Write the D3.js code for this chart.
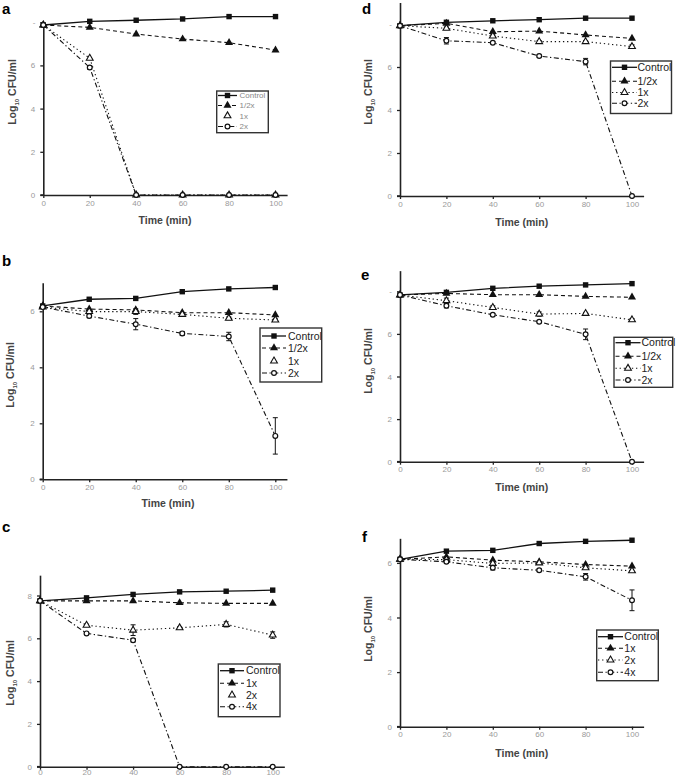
<!DOCTYPE html>
<html><head><meta charset="utf-8">
<script src="https://cdn.jsdelivr.net/npm/d3@7"></script>
<style>body{margin:0;background:#fff}svg{display:block;font-family:Arial,"Liberation Sans",sans-serif}</style>
</head><body>
<svg id="c" width="677" height="776"></svg>
<script>
// ---------- data ----------
const time = [0, 20, 40, 60, 80, 100];
const xTicks = [0, 20, 40, 60, 80, 100];

const legendA = ["Control", "1/2x", "1x", "2x"];
const aControl = [7.87, 8.04, 8.09, 8.15, 8.26, 8.26];
const aHalf    = [7.87, 7.76, 7.45, 7.22, 7.05, 6.71];
const a1x      = [7.87, 6.33, 0, 0, 0, 0];
const a2x      = [7.87, 5.90, 0, 0, 0, 0];
const a2xErr   = [0, 0.08, 0, 0, 0, 0];

const legendB = ["Control", "1/2x", "1x", "2x"];
const bControl = [6.19, 6.43, 6.46, 6.70, 6.80, 6.85];
const bHalf    = [6.19, 6.08, 6.05, 5.95, 5.95, 5.87];
const b1x      = [6.15, 5.99, 5.99, 5.89, 5.75, 5.69];
const b2x      = [6.15, 5.83, 5.54, 5.21, 5.10, 1.55];
const b2xErr   = [0, 0.06, 0.20, 0.07, 0.15, 0.65];
const b1xErr   = [0, 0.05, 0.10, 0.05, 0.05, 0.04];

const legendC = ["Control", "1x", "2x", "4x"];
const cControl = [7.75, 7.89, 8.05, 8.17, 8.20, 8.25];
const c1x      = [7.75, 7.75, 7.75, 7.66, 7.63, 7.63];
const c2x      = [7.75, 6.61, 6.38, 6.49, 6.65, 6.15];
const c4x      = [7.75, 6.23, 5.91, 0, 0, 0];
const c2xErr   = [0, 0.05, 0.25, 0.05, 0.12, 0.15];
const c4xErr   = [0, 0.03, 0.08, 0, 0, 0];

const legendD = ["Control", "1/2x", "1x", "2x"];
const dControl = [7.92, 8.08, 8.15, 8.20, 8.27, 8.27];
const dHalf    = [7.92, 8.03, 7.64, 7.67, 7.49, 7.33];
const d1x      = [7.92, 7.80, 7.44, 7.18, 7.18, 6.95];
const d2x      = [7.92, 7.22, 7.13, 6.51, 6.25, 0];
const d2xErr   = [0, 0.15, 0.04, 0.05, 0.15, 0];
const d1xErr   = [0, 0.06, 0.06, 0.05, 0.05, 0.08];

const legendE = ["Control", "1/2x", "1x", "2x"];
const eControl = [7.83, 7.95, 8.14, 8.24, 8.30, 8.36];
const eHalf    = [7.83, 7.90, 7.84, 7.84, 7.76, 7.72];
const e1x      = [7.83, 7.56, 7.24, 6.93, 6.96, 6.66];
const e2x      = [7.83, 7.32, 6.90, 6.57, 5.98, 0];
const e2xErr   = [0, 0.10, 0.05, 0.05, 0.25, 0];
const e1xErr   = [0, 0.12, 0.08, 0.10, 0.05, 0.06];

const legendF = ["Control", "1x", "2x", "4x"];
const fControl = [6.13, 6.43, 6.46, 6.71, 6.79, 6.83];
const f1x      = [6.13, 6.22, 6.10, 6.04, 5.94, 5.88];
const f2x      = [6.13, 6.12, 5.98, 6.00, 5.82, 5.71];
const f4x      = [6.13, 6.04, 5.82, 5.73, 5.49, 4.63];
const f4xErr   = [0, 0.05, 0.08, 0.05, 0.12, 0.38];

const yTicksA = [0, 2, 4, 6, 8];
const yTickLabelsA = ["0", "2", "4", "6", "-"];
const yTicksB = [0, 2, 4, 6];
const yTickLabelsB = ["0", "2", "4", "6"];
const yTicksC = [0, 2, 4, 6, 8];
const yTickLabelsC = ["0", "2", "4", "6", "8"];

// ---------- layout ----------
const panels = [
  {id:"a", lx:2, ly:13.5, x0:43.3, x100:275.5, y0:195, pu:21.6, ymax:7.9, xpad:2,
   yt:yTicksA, ytl:yTickLabelsA, names:legendA, series:[aControl,aHalf,a1x,a2x], errs:[null,null,null,a2xErr],
   legLine:[true,true,false,true], leg:{x:216.7,y:91,w:51.6,h:41.7,rows:[95.5,105.5,115.8,126.5],sx:218,sw:19,tx:239.5,fs:8,col:"#888"},
   ylab:{x:16,y:92}, xlab:{x:165,y:224}},
  {id:"b", lx:2, ly:265.5, x0:42.7, x100:275.3, y0:479.3, pu:28, ymax:7.02, xpad:2,
   yt:yTicksB, ytl:yTickLabelsB, names:legendB, series:[bControl,bHalf,b1x,b2x], errs:[null,null,b1xErr,b2xErr],
   legLine:[true,true,false,true], leg:{x:260,y:328,w:61.7,h:54,rows:[336,348,361,373],sx:262,sw:24,tx:288,fs:10.5,col:"#222"},
   ylab:{x:14,y:375}, xlab:{x:168,y:507}},
  {id:"c", lx:2, ly:532, x0:40, x100:272.7, y0:766.7, pu:21.4, ymax:8.95, xpad:-0.5,
   yt:yTicksC, ytl:yTickLabelsC, names:legendC, series:[cControl,c1x,c2x,c4x], errs:[null,null,c2xErr,c4xErr],
   legLine:[true,true,false,true], leg:{x:218.3,y:664,w:61.7,h:52.7,rows:[670.7,683.3,695,706.7],sx:220,sw:24,tx:246,fs:10.5,col:"#222"},
   ylab:{x:14,y:673}, xlab:null},
  {id:"d", lx:362, ly:13.5, x0:400, x100:632, y0:196, pu:21.5, ymax:9.0, xpad:2,
   yt:yTicksA, ytl:yTickLabelsA, names:legendD, series:[dControl,dHalf,d1x,d2x], errs:[null,null,d1xErr,d2xErr],
   legLine:[true,true,true,true], leg:{x:610.5,y:61,w:61,h:52.5,rows:[67.3,81.2,92.5,103.3],sx:612,sw:25,tx:637.5,fs:10.5,col:"#222"},
   ylab:{x:372,y:92}, xlab:{x:521.7,y:225.5}},
  {id:"e", lx:361, ly:279.5, x0:400, x100:632, y0:461.7, pu:21.3, ymax:8.97, xpad:2,
   yt:yTicksA, ytl:yTickLabelsA, names:legendE, series:[eControl,eHalf,e1x,e2x], errs:[null,null,e1xErr,e2xErr],
   legLine:[true,true,true,true], leg:{x:614,y:337.3,w:58.7,h:50,rows:[342.7,356.2,368.3,380],sx:615.5,sw:25,tx:641.5,fs:10.5,col:"#222"},
   ylab:{x:372,y:361}, xlab:{x:521.7,y:490.5}},
  {id:"f", lx:362, ly:541.7, x0:400, x100:632, y0:726.7, pu:27.3, ymax:6.9, xpad:2,
   yt:yTicksB, ytl:yTickLabelsB, names:legendF, series:[fControl,f1x,f2x,f4x], errs:[null,null,null,f4xErr],
   legLine:[true,true,true,true], leg:{x:596.7,y:630,w:61.6,h:50.7,rows:[636.7,648.3,660,672.3],sx:598,sw:25,tx:624.3,fs:10.5,col:"#222"},
   ylab:{x:372,y:629}, xlab:{x:521.7,y:757}}
];

const dashes = [null, "4,3", "1.3,2.8", "5,2.5,1.3,2.5"];
const ink = "#111";
const svg = d3.select("#c");

function marker(g, type, x, y) {
  if (type === 0) {
    g.append("rect").attr("x", x-2.7).attr("y", y-2.7).attr("width", 5.4).attr("height", 5.4).attr("fill", ink);
  } else if (type === 1) {
    g.append("path").attr("d", d3.symbol(d3.symbolTriangle, 28)()).attr("transform", `translate(${x},${y})`).attr("fill", ink);
  } else if (type === 2) {
    g.append("path").attr("d", d3.symbol(d3.symbolTriangle, 20)()).attr("transform", `translate(${x},${y})`)
      .attr("fill", "#fff").attr("stroke", ink).attr("stroke-width", 1.1);
  } else {
    g.append("circle").attr("cx", x).attr("cy", y).attr("r", 2.4).attr("fill", "#fff").attr("stroke", ink).attr("stroke-width", 1.2);
  }
}

panels.forEach(p => {
  const g = svg.append("g");
  const xEnd = 105;
  const x = d3.scaleLinear().domain([0, xEnd]).range([p.x0, p.x0 + (p.x100 - p.x0) * xEnd / 100]);
  const y = d3.scaleLinear().domain([0, p.ymax]).range([p.y0, p.y0 - p.pu * p.ymax]);

  g.append("text").attr("x", p.lx).attr("y", p.ly).attr("font-size", 15).attr("font-weight", "bold").attr("fill", "#000").text(p.id);

  const xa = g.append("g").attr("transform", `translate(0,${p.y0})`)
    .call(d3.axisBottom(x).tickValues(xTicks).tickSize(3).tickSizeOuter(0).tickPadding(p.xpad));
  const ya = g.append("g").attr("transform", `translate(${p.x0},0)`)
    .call(d3.axisLeft(y).tickValues(p.yt).tickSize(3).tickSizeOuter(0).tickPadding(5)
      .tickFormat((d, i) => p.ytl[i]));
  [xa, ya].forEach(a => {
    a.select(".domain").attr("stroke", "#222").attr("stroke-width", 1.6);
    a.selectAll(".tick line").attr("stroke", "#222").attr("stroke-width", 1.3);
    a.selectAll(".tick text").attr("fill", "#9a9a9a").attr("font-size", 8).attr("font-family", "Arial, 'Liberation Sans', sans-serif");
  });
  g.append("line").attr("x1", p.x0 - 3).attr("x2", p.x0).attr("y1", p.y0).attr("y2", p.y0).attr("stroke", "#222").attr("stroke-width", 1.6);

  if (p.xlab) {
    g.append("text").attr("x", p.xlab.x).attr("y", p.xlab.y).attr("text-anchor", "middle")
      .attr("font-size", 10.5).attr("font-weight", "bold").attr("fill", "#444").text("Time (min)");
  }
  const yl = g.append("text").attr("transform", `translate(${p.ylab.x},${p.ylab.y}) rotate(-90)`)
    .attr("text-anchor", "middle").attr("font-size", 10.5).attr("font-weight", "bold").attr("fill", "#444");
  yl.append("tspan").text("Log");
  yl.append("tspan").attr("font-size", 6).attr("dy", 3).text("10");
  yl.append("tspan").attr("dy", -3).text(" CFU/ml");

  const line = d3.line().x((d, i) => x(time[i])).y(d => y(d));
  p.series.forEach((s, k) => {
    g.append("path").datum(s).attr("d", line).attr("fill", "none").attr("stroke", ink)
      .attr("stroke-width", k === 0 ? 1.3 : 1.1).attr("stroke-dasharray", dashes[k]);
  });
  p.series.forEach((s, k) => {
    const e = p.errs[k];
    if (!e) return;
    s.forEach((v, i) => {
      if (!e[i]) return;
      const cx = x(time[i]);
      g.append("line").attr("x1", cx).attr("x2", cx).attr("y1", y(v - e[i])).attr("y2", y(v + e[i])).attr("stroke", ink).attr("stroke-width", 1);
      [v - e[i], v + e[i]].forEach(w => g.append("line").attr("x1", cx - 2.5).attr("x2", cx + 2.5).attr("y1", y(w)).attr("y2", y(w)).attr("stroke", ink).attr("stroke-width", 1));
    });
  });
  p.series.forEach((s, k) => s.forEach((v, i) => marker(g, k, x(time[i]), y(v))));

  const L = p.leg;
  g.append("rect").attr("x", L.x).attr("y", L.y).attr("width", L.w).attr("height", L.h)
    .attr("fill", "#fff").attr("stroke", "#333").attr("stroke-width", 1.4);
  p.names.forEach((n, k) => {
    const ry = L.rows[k];
    if (p.legLine[k]) {
      g.append("line").attr("x1", L.sx).attr("x2", L.sx + L.sw).attr("y1", ry).attr("y2", ry)
        .attr("stroke", ink).attr("stroke-width", k === 0 ? 1.3 : 1.1).attr("stroke-dasharray", dashes[k]);
    }
    marker(g, k, L.sx + L.sw / 2, ry);
    g.append("text").attr("x", L.tx).attr("y", ry).attr("dy", "0.35em").attr("font-size", L.fs).attr("fill", L.col).text(n);
  });
});
</script>
</body></html>
